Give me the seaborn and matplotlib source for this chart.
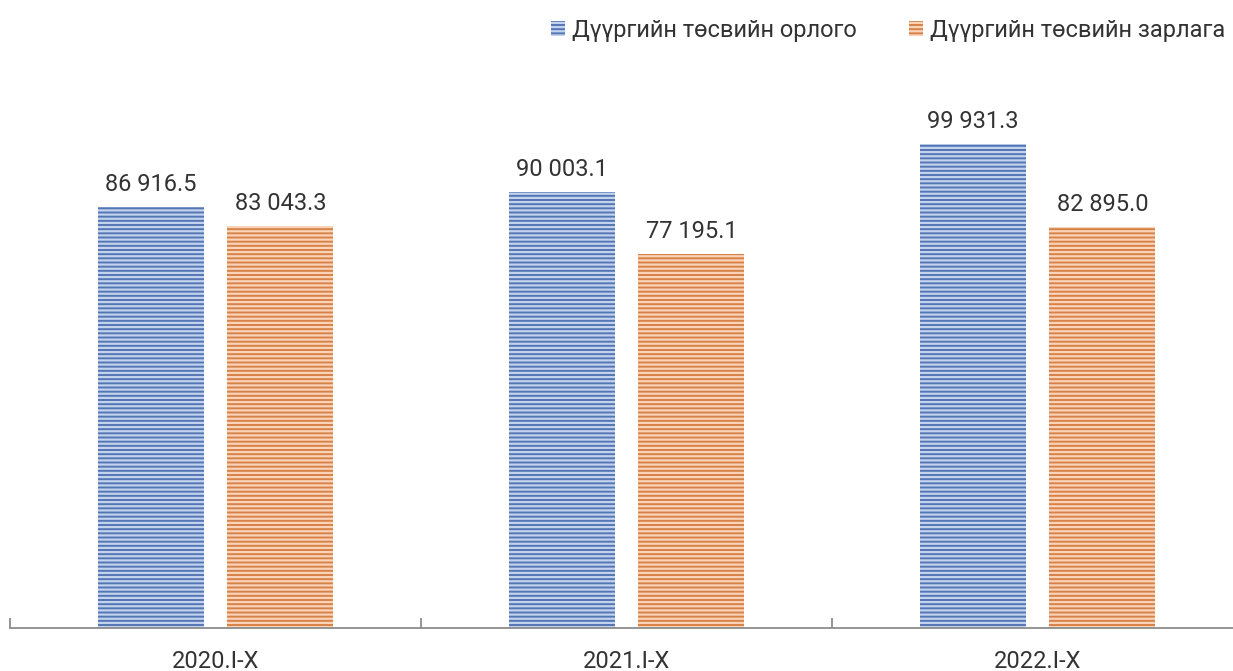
import pandas as pd
import matplotlib.pyplot as plt
import seaborn as sns

periods = ['2020.I-X', '2021.I-X', '2022.I-X']
revenue = [86916.5, 90003.1, 99931.3]
expenditure = [83043.3, 77195.1, 82895.0]
series_names = ['Дүүргийн төсвийн орлого', 'Дүүргийн төсвийн зарлага']
base_colors = ['#4472C4', '#ED7D31']
stripe_colors = ['#C3D3EE', '#FAD3B8']


def fmt(v):
    return f'{v:,.1f}'.replace(',', ' ')


def main():
    df = pd.DataFrame({
        'period': periods * 2,
        'value': revenue + expenditure,
        'series': [series_names[0]] * 3 + [series_names[1]] * 3,
    })

    sns.set_style('white')
    plt.rcParams['font.family'] = ['Roboto', 'DejaVu Sans']
    plt.rcParams['hatch.linewidth'] = 1.6
    text_color = '#333333'

    fig = plt.figure(figsize=(12.33, 6.71), dpi=100)
    ax = fig.add_axes([10 / 1233, 43 / 671, 1233 / 1233, 581 / 671])

    sns.barplot(data=df, x='period', y='value', hue='series',
                palette=base_colors, width=0.632, gap=0.184,
                legend=False, ax=ax)

    for cont, sc, name in zip(ax.containers, stripe_colors, series_names):
        for p in cont:
            p.set_hatch('----')
            p.set_edgecolor(sc)
            p.set_linewidth(0)
        cont.set_label(name)
        ax.bar_label(cont, labels=[fmt(v) for v in cont.datavalues],
                     padding=8, fontsize=17, color=text_color)

    ax.set_xlim(-0.5, 2.5)
    ax.set_ylim(0, 120000)
    ax.set_xlabel('')
    ax.set_ylabel('')
    ax.set_yticks([])
    for s in ['top', 'right', 'left']:
        ax.spines[s].set_visible(False)
    ax.spines['bottom'].set_color('#8c8c8c')
    ax.spines['bottom'].set_linewidth(1.3)

    ax.set_xticks([-0.5, 0.5, 1.5, 2.5], minor=True)
    ax.tick_params(axis='x', which='major', length=0, pad=16,
                   labelsize=17, labelcolor=text_color)
    ax.tick_params(axis='x', which='minor', direction='in', length=7,
                   width=1.3, color='#8c8c8c', bottom=True)

    handles = [cont.patches[0] for cont in ax.containers]
    fig.legend(handles, series_names, loc='center right',
               bbox_to_anchor=(1.011, 1 - 30 / 671), ncol=2,
               frameon=False, handlelength=0.6, handleheight=0.6,
               handletextpad=0.3, columnspacing=2.2,
               labelcolor=text_color, prop={'size': 17})

    fig.savefig('out.png', dpi=100)


if __name__ == '__main__':
    main()
